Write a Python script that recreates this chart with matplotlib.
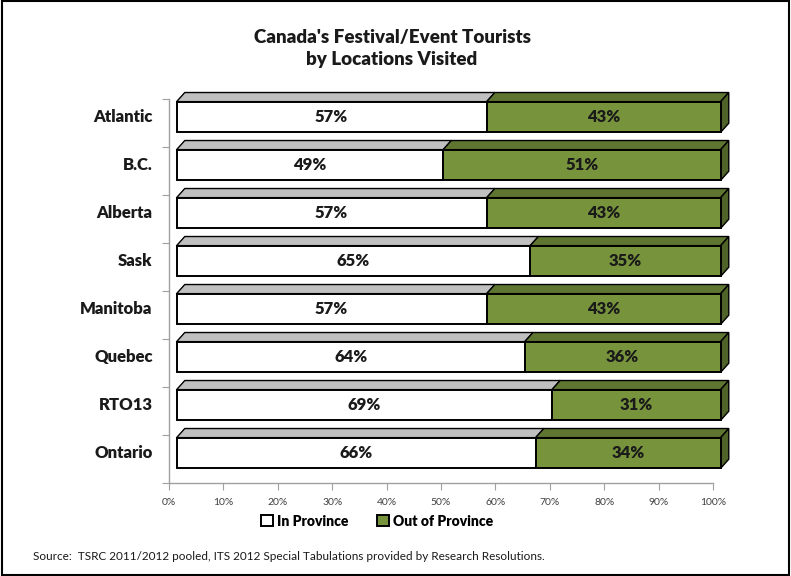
import matplotlib
matplotlib.use("Agg")
import matplotlib.pyplot as plt
from matplotlib.patches import Polygon, Patch, Rectangle

plt.rcParams['font.family'] = ['Lato', 'DejaVu Sans']

# Datos
regions = ['Atlantic', 'B.C.', 'Alberta', 'Sask', 'Manitoba', 'Quebec', 'RTO13', 'Ontario']
in_prov = [57, 49, 57, 65, 57, 64, 69, 66]
out_prov = [43, 51, 43, 35, 43, 36, 31, 34]
ticks_x = [0, 10, 20, 30, 40, 50, 60, 70, 80, 90, 100]

green = '#77933C'
green_top = '#5E7630'
green_side = '#4F6228'
grey_top = '#C0C0C0'

# pseudo 3D geometry (data units)
off_x = 1.4      # front face shift to the right
dx = 1.5         # depth in x
dy = 0.19        # depth in y
h = 0.64         # front face height
shift = 0.125    # front face raised above band centre

fig = plt.figure(figsize=(7.91, 5.76), dpi=100)
ax = fig.add_axes([169 / 791, 1 - 483 / 576, 544 / 791, 384 / 576])
ax.set_xlim(0, 100)
ax.set_ylim(7.5, -0.5)

y = [i - shift for i in range(len(regions))]

# front faces
b1 = ax.barh(y, in_prov, height=h, left=off_x, color='white', edgecolor='black',
             linewidth=1.4, zorder=3, clip_on=False)
left2 = [off_x + v for v in in_prov]
b2 = ax.barh(y, out_prov, height=h, left=left2, color=green, edgecolor='black',
             linewidth=1.4, zorder=3, clip_on=False)

# top and side faces
for i in range(len(regions)):
    top = y[i] - h / 2
    bot = y[i] + h / 2
    x0 = off_x
    x1 = off_x + in_prov[i]
    x2 = x1 + out_prov[i]
    ax.add_patch(Polygon([(x0, top), (x1, top), (x1 + dx, top - dy), (x0 + dx, top - dy)],
                         closed=True, facecolor=grey_top, edgecolor='black', linewidth=1.0,
                         zorder=2, clip_on=False))
    ax.add_patch(Polygon([(x1, top), (x2, top), (x2 + dx, top - dy), (x1 + dx, top - dy)],
                         closed=True, facecolor=green_top, edgecolor='black', linewidth=1.0,
                         zorder=2, clip_on=False))
    ax.add_patch(Polygon([(x2, top), (x2 + dx, top - dy), (x2 + dx, bot - dy), (x2, bot)],
                         closed=True, facecolor=green_side, edgecolor='black', linewidth=1.0,
                         zorder=2, clip_on=False))
    ax.text(x0 + in_prov[i] / 2, y[i], f'{in_prov[i]}%', ha='center', va='center',
            fontsize=12, fontweight='heavy', color='#1a1a1a', zorder=5)
    ax.text(x1 + out_prov[i] / 2, y[i], f'{out_prov[i]}%', ha='center', va='center',
            fontsize=12, fontweight='heavy', color='#1a1a1a', zorder=5)

# axes
for s in ['top', 'right']:
    ax.spines[s].set_visible(False)
for s in ['left', 'bottom']:
    ax.spines[s].set_color('#A0A0A0')
    ax.spines[s].set_linewidth(1.0)

ax.set_xticks(ticks_x)
ax.set_xticklabels([f'{t}%' for t in ticks_x], fontsize=7.5, color='#404040')
ax.tick_params(axis='x', length=5, color='#A0A0A0', pad=6)

ax.set_yticks([i - 0.5 for i in range(len(regions) + 1)])
ax.set_yticklabels([])
ax.tick_params(axis='y', length=5, color='#A0A0A0')
for i, r in enumerate(regions):
    ax.text(-3, i - shift, r, ha='right', va='center', fontsize=12,
            fontweight='heavy', color='#1a1a1a', transform=ax.transData)

fig.text(392 / 791, 1 - 37 / 576, "Canada's Festival/Event Tourists", ha='center', va='center',
         fontsize=13.5, fontweight='heavy', color='#1a1a1a')
fig.text(392 / 791, 1 - 60 / 576, "by Locations Visited", ha='center', va='center',
         fontsize=13.5, fontweight='heavy', color='#1a1a1a')

handles = [Patch(facecolor='white', edgecolor='black', linewidth=1.4, label='In Province'),
           Patch(facecolor=green, edgecolor='black', linewidth=1.4, label='Out of Province')]
fig.legend(handles=handles, loc='center', bbox_to_anchor=(377 / 791, 1 - 521 / 576), ncol=2,
           frameon=False, prop={'size': 10, 'weight': 'heavy'}, handlelength=0.9,
           handleheight=0.9, handletextpad=0.3, columnspacing=2.0)

fig.text(33 / 791, 1 - 557 / 576,
         'Source:  TSRC 2011/2012 pooled, ITS 2012 Special Tabulations provided by Research Resolutions.',
         ha='left', va='center', fontsize=8.5, color='#1a1a1a')

fig.add_artist(Rectangle((0.002, 0.002), 0.996, 0.996, transform=fig.transFigure,
                         fill=False, edgecolor='black', linewidth=1.5))

fig.savefig('out.png', dpi=100)
